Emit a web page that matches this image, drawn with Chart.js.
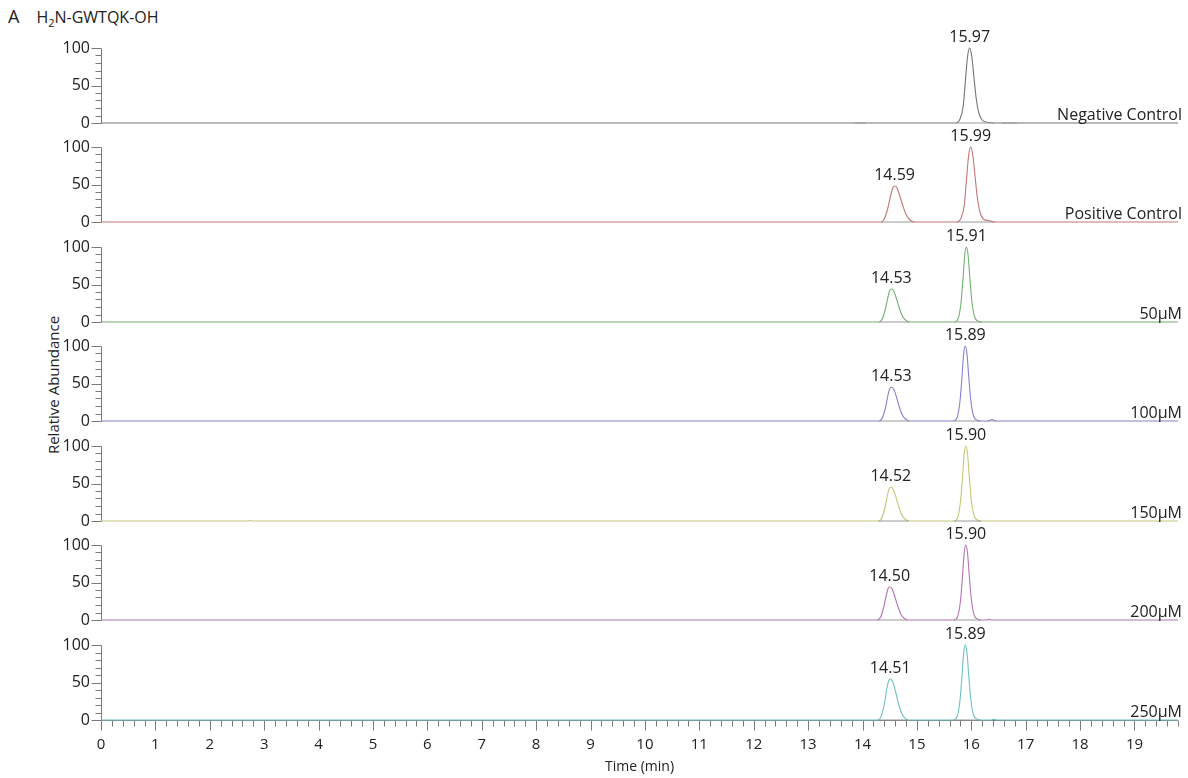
<!DOCTYPE html>
<html>
<head>
<meta charset="utf-8">
<script src="https://cdn.jsdelivr.net/npm/chart.js@4.4.0/dist/chart.umd.min.js"></script>
<style>
  body { margin: 0; background: #fff; }
  #page { position: relative; width: 1188px; height: 778px; overflow: hidden; font-family: "Open Sans", sans-serif; color: #222; }
  .panel { position: absolute; left: 40px; }
  #title { position: absolute; left: 8px; top: 4px; font-size: 16px; }
  #title .tag { font-size: 18px; margin-right: 17px; }
  #yTitle { position: absolute; left: 53px; top: 385px; transform: translate(-50%, -50%) rotate(-90deg); font-size: 15px; white-space: nowrap; }
</style>
</head>
<body>
<div id="page">
  <div id="title"><span class="tag">A</span>H<sub style="font-size:11px">2</sub>N-GWTQK-OH</div>
  <div id="yTitle">Relative Abundance</div>
</div>
<script>
// ----------------------------
// Data
// ----------------------------
const traceNames = ["Negative Control", "Positive Control", "50µM", "100µM", "150µM", "200µM", "250µM"];
const traceColors = ["#757575", "#c27676", "#72b272", "#8383d2", "#c6c67a", "#b673b6", "#6ec2c2"];

const timeNeg  = [0, 15.71, 15.79, 15.85, 15.89, 15.93, 15.97, 16.01, 16.05, 16.09, 16.14, 16.20, 16.29, 16.42, 19.8];
const abundNeg = [0, 0, 5, 22, 55, 88, 100, 88, 60, 33, 13, 4, 1, 0, 0];

const timePos  = [0, 14.34, 14.40, 14.46, 14.52, 14.56, 14.59, 14.63, 14.68, 14.74, 14.80, 14.87, 14.95,
                  15.73, 15.81, 15.87, 15.91, 15.95, 15.99, 16.03, 16.07, 16.11, 16.16, 16.22, 16.31, 16.44, 19.8];
const abundPos = [0, 0, 4, 17, 36, 46, 48, 46, 36, 22, 10, 3, 0,
                  0, 5, 22, 55, 88, 100, 88, 60, 33, 13, 4, 2, 0, 0];

const time50  = [0, 14.30, 14.36, 14.42, 14.47, 14.50, 14.53, 14.57, 14.62, 14.68, 14.74, 14.80, 14.86,
                 15.69, 15.76, 15.81, 15.85, 15.88, 15.91, 15.94, 15.97, 16.01, 16.06, 16.13, 16.19, 19.8];
const abund50 = [0, 0, 3.5, 17, 34, 42, 44, 42, 32, 18, 7, 2, 0,
                 0, 5, 25, 60, 90, 100, 90, 62, 28, 7, 1, 0, 0];

const time100  = [0, 14.30, 14.36, 14.42, 14.47, 14.50, 14.53, 14.57, 14.62, 14.68, 14.74, 14.80, 14.86,
                  15.67, 15.74, 15.79, 15.83, 15.86, 15.89, 15.92, 15.95, 15.99, 16.04, 16.11, 16.17,
                  16.30, 16.38, 16.46, 19.8];
const abund100 = [0, 0, 3.5, 17, 35, 43, 45, 43, 33, 18, 7, 2, 0,
                  0, 5, 25, 60, 90, 100, 90, 62, 28, 7, 1, 0,
                  0, 2, 0, 0];

const time150  = [0, 2.72, 2.75, 2.78, 14.29, 14.35, 14.41, 14.46, 14.49, 14.52, 14.56, 14.61, 14.67, 14.73, 14.79, 14.85,
                  15.68, 15.75, 15.80, 15.84, 15.87, 15.90, 15.93, 15.96, 16.00, 16.05, 16.12, 16.18, 19.8];
const abund150 = [0, 0, 0.8, 0, 0, 3.5, 17, 35, 43, 45, 43, 33, 18, 7, 2, 0,
                  0, 5, 25, 60, 90, 100, 90, 62, 28, 7, 1, 0, 0];

const time200  = [0, 14.27, 14.33, 14.39, 14.44, 14.47, 14.50, 14.54, 14.59, 14.65, 14.71, 14.77, 14.83,
                  15.68, 15.75, 15.80, 15.84, 15.87, 15.90, 15.93, 15.96, 16.00, 16.05, 16.12, 16.18,
                  16.28, 16.33, 16.38, 19.8];
const abund200 = [0, 0, 3.5, 17, 34, 42, 44, 42, 32, 18, 7, 2, 0,
                  0, 5, 25, 60, 90, 100, 90, 62, 28, 7, 1, 0,
                  0, 0.8, 0, 0];

const time250  = [0, 14.28, 14.34, 14.40, 14.45, 14.48, 14.51, 14.55, 14.60, 14.66, 14.72, 14.78, 14.84,
                  15.67, 15.74, 15.79, 15.83, 15.86, 15.89, 15.92, 15.95, 15.99, 16.04, 16.11, 16.17,
                  16.37, 16.42, 16.47, 19.8];
const abund250 = [0, 0, 4.5, 21, 43, 52, 55, 52, 40, 22, 9, 2.5, 0,
                  0, 5, 25, 60, 90, 100, 90, 62, 28, 7, 1, 0,
                  0, 1, 0, 0];

// labelled retention times per trace
const peaksNeg = [15.97];
const peaksPos = [14.59, 15.99];
const peaks50  = [14.53, 15.91];
const peaks100 = [14.53, 15.89];
const peaks150 = [14.52, 15.90];
const peaks200 = [14.50, 15.90];
const peaks250 = [14.51, 15.89];

// integration baselines (start, end) drawn in grey under the peaks
const grayNeg = [[13.86, 14.06], [15.71, 16.42], [16.56, 16.84]];
const grayPos = [[14.34, 14.95], [15.73, 16.44]];
const gray50  = [[14.30, 14.86], [15.69, 16.19]];
const gray100 = [[14.30, 14.86], [15.67, 16.17], [16.30, 16.46]];
const gray150 = [[14.29, 14.85], [15.68, 16.18]];
const gray200 = [[14.27, 14.83], [15.68, 16.18]];
const gray250 = [[14.28, 14.84], [15.67, 16.17]];

const xMax = 19.8;

const traces = [
  { time: timeNeg, abund: abundNeg, peaks: peaksNeg, gray: grayNeg },
  { time: timePos, abund: abundPos, peaks: peaksPos, gray: grayPos },
  { time: time50,  abund: abund50,  peaks: peaks50,  gray: gray50 },
  { time: time100, abund: abund100, peaks: peaks100, gray: gray100 },
  { time: time150, abund: abund150, peaks: peaks150, gray: gray150 },
  { time: time200, abund: abund200, peaks: peaks200, gray: gray200 },
  { time: time250, abund: abund250, peaks: peaks250, gray: gray250 }
];

// ----------------------------
// Layout
// ----------------------------
const panelZero = [123, 222, 322, 421, 521, 620, 720]; // pixel row of each baseline
const FONT = '"Open Sans", sans-serif';

// axis ticks, peak labels and trace name for one panel
function makeMarks(tr, name, bottom) {
  return {
    id: "panelMarks",
    beforeDatasetsDraw(chart) {
      const { ctx, chartArea: a, scales: { x, y } } = chart;
      ctx.save();
      ctx.strokeStyle = "#7a7a7a";
      ctx.lineWidth = 1;
      const left = Math.round(a.left) + 0.5;
      const yz = Math.round(y.getPixelForValue(0)) + 0.5;
      ctx.beginPath();
      ctx.moveTo(left, yz);
      ctx.lineTo(left, Math.round(y.getPixelForValue(100)) + 0.5);
      for (let v = 0; v <= 100; v += 10) {
        const py = Math.round(y.getPixelForValue(v)) + 0.5;
        ctx.moveTo(left, py);
        ctx.lineTo(left - (v % 50 === 0 ? 10 : 6), py);
      }
      if (bottom) {
        ctx.moveTo(left, yz);
        ctx.lineTo(a.right, yz);
        for (let k = 0; k * 0.2 <= xMax + 1e-9; k++) {
          const px = Math.round(x.getPixelForValue(k * 0.2)) + 0.5;
          ctx.moveTo(px, yz);
          ctx.lineTo(px, yz + (k % 5 === 0 ? 10 : 6));
        }
      }
      ctx.stroke();

      ctx.fillStyle = "#222";
      ctx.font = "16px " + FONT;
      ctx.textAlign = "right";
      ctx.textBaseline = "middle";
      [0, 50, 100].forEach(v => ctx.fillText(String(v), a.left - 11, y.getPixelForValue(v)));
      ctx.restore();
    },
    afterDatasetsDraw(chart) {
      const { ctx, chartArea: a, scales: { x, y } } = chart;
      ctx.save();
      ctx.fillStyle = "#222";
      ctx.font = "16px " + FONT;
      ctx.textAlign = "center";
      ctx.textBaseline = "alphabetic";
      tr.peaks.forEach(rt => {
        const k = tr.time.indexOf(rt);
        ctx.fillText(rt.toFixed(2), x.getPixelForValue(rt), y.getPixelForValue(tr.abund[k]) - 6);
      });
      ctx.textAlign = "right";
      ctx.fillText(name, a.right + 4, y.getPixelForValue(0) - 3);
      ctx.restore();
    }
  };
}

function makePanel(i) {
  const tr = traces[i];
  const bottom = i === traces.length - 1;
  const canvas = document.createElement("canvas");
  const h = bottom ? 157 : 108;
  canvas.width = 1148;
  canvas.height = h;
  canvas.className = "panel";
  canvas.style.top = (panelZero[i] - 99) + "px";
  document.getElementById("page").appendChild(canvas);

  const grayPts = [];
  tr.gray.forEach(([s, e]) => {
    grayPts.push({ x: s, y: 0 }, { x: e, y: 0 }, { x: e, y: null });
  });

  const xScale = { type: "linear", min: 0, max: xMax, display: bottom };
  if (bottom) {
    Object.assign(xScale, {
      afterBuildTicks: s => { s.ticks = s.ticks.filter(t => Number.isInteger(t.value)); },
      afterFit: s => { s.height = 58; },
      ticks: { stepSize: 1, includeBounds: false, padding: 16, autoSkip: false, maxRotation: 0, color: "#222", font: { family: FONT, size: 15 } },
      grid: { display: false, drawTicks: false },
      border: { display: false },
      title: { display: true, text: "Time (min)", color: "#222", font: { family: FONT, size: 14 }, padding: { top: 0, bottom: 3 } }
    });
  }

  new Chart(canvas.getContext("2d"), {
    type: "line",
    data: {
      datasets: [
        {
          data: tr.time.map((t, k) => ({ x: t, y: tr.abund[k] })),
          borderColor: traceColors[i],
          borderWidth: 1.1,
          pointRadius: 0,
          cubicInterpolationMode: "monotone",
          clip: 3,
          order: 2
        },
        {
          data: grayPts,
          borderColor: "#9a9a9a",
          borderWidth: 1.2,
          pointRadius: 0,
          spanGaps: false,
          clip: 3,
          order: 1
        }
      ]
    },
    options: {
      responsive: false,
      animation: false,
      events: [],
      layout: { padding: { left: 61, right: 10, top: 0, bottom: 0 } },
      plugins: { legend: { display: false }, tooltip: { enabled: false } },
      scales: {
        x: xScale,
        y: { type: "linear", min: bottom ? 0 : -12, max: 132, display: false }
      }
    },
    plugins: [makeMarks(tr, traceNames[i], bottom)]
  });
}

traces.forEach((_, i) => makePanel(i));
</script>
</body>
</html>
